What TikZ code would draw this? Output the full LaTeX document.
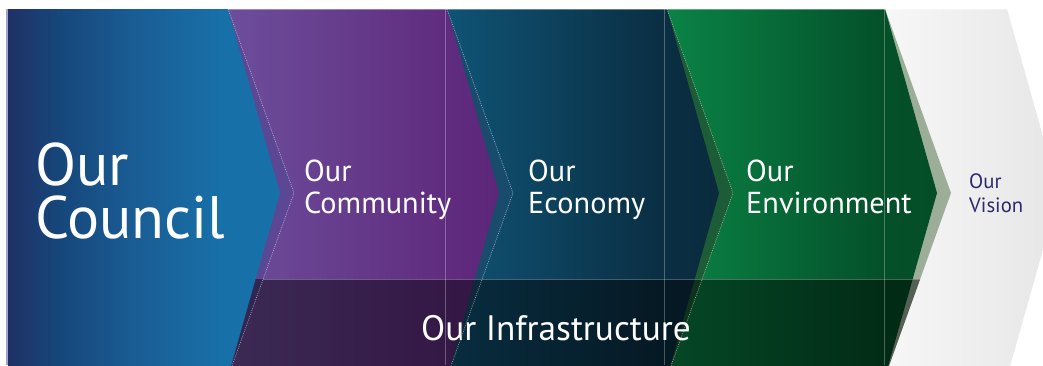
\documentclass[tikz,border=0pt]{standalone}
\usepackage{fontspec}
\setmainfont{PT Sans}

% fills of the five chevrons
\definecolor{councilA}{HTML}{1F3166}
\definecolor{councilB}{HTML}{16487C}
\definecolor{councilC}{HTML}{1A5C94}
\definecolor{councilD}{HTML}{1870A8}
\definecolor{communityA}{HTML}{6D4E9C}
\definecolor{communityB}{HTML}{602C7F}
\definecolor{communityC}{HTML}{5D2779}
\definecolor{economyA}{HTML}{0F5375}
\definecolor{economyB}{HTML}{0A2E42}
\definecolor{economyC}{HTML}{0A2B3E}
\definecolor{environmentA}{HTML}{0A8346}
\definecolor{environmentB}{HTML}{045029}
\definecolor{environmentC}{HTML}{044E27}
\definecolor{visionA}{HTML}{F7F7F7}
\definecolor{visionB}{HTML}{E6E6E6}
% shadow bands between the chevrons
\definecolor{bandA}{HTML}{5B4794}
\definecolor{bandB}{HTML}{184B6C}
\definecolor{bandC}{HTML}{1C5C36}
\definecolor{bandD}{HTML}{9CAE98}
% edges and text
\definecolor{edgeline}{HTML}{A4A4CC}
\definecolor{visiontext}{HTML}{2B2A6C}

% horizontal shadings: the path spans 25bp..75bp
\pgfdeclarehorizontalshading{councilshade}{100bp}{color(0bp)=(councilA); color(25bp)=(councilA); color(35bp)=(councilB); color(48bp)=(councilC); color(64bp)=(councilD); color(100bp)=(councilD)}
\pgfdeclarehorizontalshading{communityshade}{100bp}{color(0bp)=(communityA); color(25bp)=(communityA); color(65bp)=(communityB); color(75bp)=(communityC); color(100bp)=(communityC)}
\pgfdeclarehorizontalshading{economyshade}{100bp}{color(0bp)=(economyA); color(25bp)=(economyA); color(65bp)=(economyB); color(75bp)=(economyC); color(100bp)=(economyC)}
\pgfdeclarehorizontalshading{environmentshade}{100bp}{color(0bp)=(environmentA); color(25bp)=(environmentA); color(65bp)=(environmentB); color(75bp)=(environmentC); color(100bp)=(environmentC)}
\pgfdeclarehorizontalshading{visionshade}{100bp}{color(0bp)=(visionA); color(25bp)=(visionA); color(75bp)=(visionB); color(100bp)=(visionB)}

% two stacked lines; the box's baseline is that of the second line
\newcommand{\twolines}[3]{\vbox{\baselineskip=#1\lineskiplimit=-100pt\hbox{#2}\hbox{#3}}}

\tikzset{
  bigtitle/.style={anchor=base west, inner sep=0pt, text=white, font=\fontsize{60}{60}\selectfont},
  title/.style={anchor=base west, inner sep=0pt, text=white, font=\fontsize{30.3}{30.3}\selectfont},
  smalltitle/.style={anchor=base west, inner sep=0pt, text=visiontext, font=\fontsize{20.7}{20.7}\selectfont},
  basetitle/.style={anchor=base west, inner sep=0pt, text=white, font=\fontsize{35.3}{35.3}\selectfont},
  notchline/.style={white, opacity=0.55, line width=0.6pt, dash pattern=on 1pt off 1pt},
  gridline/.style={white, opacity=0.28, line width=0.7pt},
}

\begin{document}
\begin{tikzpicture}[x=1pt,y=-1pt]
\useasboundingbox (0,0) rectangle (1043,365);
\fill[white] (0,0) rectangle (1043,365);

\begin{scope}
  \clip (8,9) rectangle (1043,365);
  % chevrons, right to left, each covering the straight left edge of the one behind it
  \path[shading=visionshade] (885,9) -- (1007,9) -- (1059,193) -- (1007,377) -- (885,377) -- cycle;
  \fill[bandD] (885,9) -- (951,193) -- (885,377) -- cycle;
  \path[shading=environmentshade] (667,9) -- (885,9) -- (937,193) -- (885,377) -- (667,377) -- cycle;
  \fill[bandC] (667,9) -- (733,193) -- (667,377) -- cycle;
  \path[shading=economyshade] (447,9) -- (667,9) -- (719,193) -- (667,377) -- (447,377) -- cycle;
  \fill[bandB] (447,9) -- (513,193) -- (447,377) -- cycle;
  \path[shading=communityshade] (228,9) -- (447,9) -- (499,193) -- (447,377) -- (228,377) -- cycle;
  \fill[bandA] (228,9) -- (294,193) -- (228,377) -- cycle;
  \path[shading=councilshade] (8,9) -- (228,9) -- (280,193) -- (228,377) -- (8,377) -- cycle;

  % darker base strip carrying the infrastructure theme
  \fill[black, opacity=0.45] (255.7,279) -- (920.2,279) -- (885,377) -- (228,377) -- cycle;

  % fine light rules
  \draw[notchline] (228,9) -- (294,193) -- (228,377);
  \draw[notchline] (447,9) -- (513,193) -- (447,377);
  \draw[notchline] (667,9) -- (733,193) -- (667,377);
  \draw[gridline] (445,9) -- (445,365);
  \draw[gridline] (664,9) -- (664,365);
  \draw[gridline] (884,9) -- (884,365);
  \draw[gridline] (263,279) -- (920.2,279);
  \draw[white, opacity=0.35, line width=0.8pt] (228,9.4) -- (1007,9.4);
\end{scope}
\fill[edgeline] (6,9) rectangle (8,365);

% labels (anchored at the baseline of their second line)
\node[bigtitle] (council) at (35,238) {\twolines{53pt}{Our}{Council}};
\node[title] (community) at (304,213) {\twolines{32pt}{Our}{Community}};
\node[title] (economy) at (528,213) {\twolines{32pt}{Our}{Economy}};
\node[title] (environment) at (746,213) {\twolines{32pt}{Our}{Environment}};
\node[smalltitle] (vision) at (969,212) {\twolines{24pt}{Our}{Vision}};
\node[basetitle] (infrastructure) at (421,340) {Our Infrastructure};
\end{tikzpicture}
\end{document}
